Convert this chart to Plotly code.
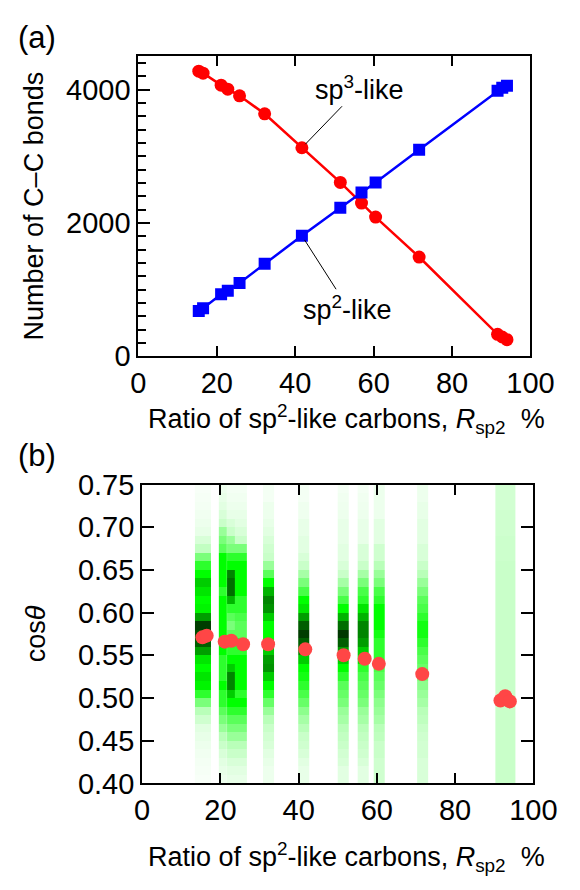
import plotly.graph_objects as go

# ---------------- data ----------------
ratio = [15.4, 16.5, 21.1, 22.8, 25.8, 32.2, 41.7, 51.5, 56.9, 60.5, 71.6, 91.6, 92.8, 94.0]
sp3_bonds = [4280, 4250, 4070, 4010, 3910, 3640, 3130, 2610, 2300, 2090, 1490, 330, 290, 250]
sp2_bonds = [680, 720, 930, 985, 1100, 1390, 1810, 2230, 2460, 2610, 3100, 3985, 4030, 4060]
cos_mean = [0.571, 0.573, 0.566, 0.567, 0.563, 0.563, 0.557, 0.550, 0.546, 0.540, 0.528, 0.497, 0.502, 0.496]

# heat-map strips: x extent of each strip and relative frequency (top bin 0.74-0.75 first)
strip_x0 = [13.5, 19.6, 21.7, 23.7, 30.9, 39.9, 50.0, 55.1, 59.2, 70.3, 90.3]
strip_x1 = [17.6, 21.7, 23.7, 26.8, 33.8, 42.8, 52.9, 57.9, 62.1, 73.2, 95.4]
cos_edges = [0.40, 0.41, 0.42, 0.43, 0.44, 0.45, 0.46, 0.47, 0.48, 0.49, 0.50, 0.51, 0.52,
             0.53, 0.54, 0.55, 0.56, 0.57, 0.58, 0.59, 0.60, 0.61, 0.62, 0.63, 0.64, 0.65,
             0.66, 0.67, 0.68, 0.69, 0.70, 0.71, 0.72, 0.73, 0.74, 0.75]
strip_1 = [0.03, 0.04, 0.05, 0.06, 0.08, 0.10, 0.15, 0.22, 0.35, 0.45, 0.50, 0.60, 0.55, 0.50, 0.52, 0.70, 0.95, 0.90,
           0.85, 0.70, 0.55, 0.50, 0.55, 0.52, 0.45, 0.35, 0.25, 0.18, 0.12, 0.10, 0.08, 0.06, 0.05, 0.04, 0.03]
strip_2 = [0.08, 0.10, 0.12, 0.15, 0.20, 0.30, 0.35, 0.40, 0.50, 0.50, 0.50, 0.50, 0.45, 0.50, 0.50, 0.50, 0.50, 0.50,
           0.50, 0.50, 0.45, 0.45, 0.45, 0.50, 0.45, 0.45, 0.40, 0.35, 0.30, 0.25, 0.20, 0.15, 0.12, 0.10, 0.08]
strip_3 = [0.05, 0.06, 0.08, 0.10, 0.15, 0.20, 0.30, 0.35, 0.45, 0.50, 0.75, 0.80, 0.80, 0.65, 0.45, 0.40, 0.35, 0.40,
           0.45, 0.45, 0.50, 0.60, 0.75, 0.75, 0.60, 0.50, 0.45, 0.40, 0.35, 0.30, 0.25, 0.20, 0.15, 0.12, 0.10]
strip_4 = [0.05, 0.06, 0.08, 0.10, 0.12, 0.15, 0.20, 0.35, 0.45, 0.50, 0.50, 0.50, 0.50, 0.45, 0.45, 0.42, 0.40, 0.40,
           0.45, 0.45, 0.50, 0.50, 0.50, 0.50, 0.45, 0.50, 0.45, 0.40, 0.35, 0.30, 0.25, 0.20, 0.15, 0.12, 0.10]
strip_5 = [0.05, 0.05, 0.08, 0.08, 0.10, 0.12, 0.15, 0.18, 0.20, 0.30, 0.40, 0.50, 0.65, 0.75, 0.72, 0.60, 0.50, 0.50,
           0.50, 0.60, 0.70, 0.72, 0.60, 0.50, 0.45, 0.38, 0.30, 0.25, 0.20, 0.17, 0.15, 0.12, 0.10, 0.08, 0.08]
strip_6 = [0.05, 0.05, 0.07, 0.07, 0.10, 0.10, 0.12, 0.12, 0.15, 0.20, 0.28, 0.35, 0.42, 0.50, 0.55, 0.70, 0.85, 0.95,
           0.85, 0.75, 0.60, 0.50, 0.48, 0.45, 0.42, 0.38, 0.32, 0.28, 0.25, 0.20, 0.18, 0.15, 0.12, 0.10, 0.10]
strip_7 = [0.05, 0.06, 0.07, 0.08, 0.10, 0.10, 0.10, 0.12, 0.12, 0.15, 0.20, 0.28, 0.35, 0.42, 0.50, 0.65, 0.80, 0.97,
           0.85, 0.70, 0.60, 0.50, 0.45, 0.40, 0.38, 0.35, 0.30, 0.28, 0.25, 0.22, 0.20, 0.17, 0.15, 0.12, 0.12]
strip_8 = [0.05, 0.06, 0.07, 0.08, 0.10, 0.10, 0.10, 0.15, 0.15, 0.20, 0.28, 0.35, 0.42, 0.45, 0.55, 0.65, 0.75, 0.75,
           0.70, 0.60, 0.55, 0.45, 0.42, 0.40, 0.38, 0.35, 0.30, 0.28, 0.25, 0.22, 0.20, 0.18, 0.15, 0.12, 0.12]
strip_9 = [0.08, 0.08, 0.08, 0.08, 0.12, 0.12, 0.12, 0.18, 0.18, 0.25, 0.30, 0.35, 0.42, 0.45, 0.50, 0.50, 0.50, 0.48,
           0.45, 0.45, 0.45, 0.42, 0.40, 0.38, 0.35, 0.32, 0.30, 0.28, 0.25, 0.23, 0.20, 0.20, 0.18, 0.18, 0.18]
strip_10 = [0.08, 0.08, 0.10, 0.10, 0.12, 0.12, 0.12, 0.15, 0.15, 0.20, 0.25, 0.30, 0.35, 0.40, 0.42, 0.45, 0.48, 0.48,
            0.45, 0.42, 0.40, 0.38, 0.35, 0.32, 0.30, 0.28, 0.25, 0.23, 0.20, 0.18, 0.17, 0.17, 0.15, 0.15, 0.15]
strip_11 = [0.17, 0.17, 0.17, 0.18, 0.18, 0.18, 0.19, 0.19, 0.19, 0.20, 0.20, 0.20, 0.20, 0.20, 0.20, 0.20, 0.20, 0.20,
            0.20, 0.20, 0.20, 0.20, 0.20, 0.20, 0.20, 0.20, 0.20, 0.20, 0.20, 0.20, 0.20, 0.20, 0.20, 0.20, 0.20]
strips = [strip_1, strip_2, strip_3, strip_4, strip_5, strip_6, strip_7, strip_8, strip_9, strip_10, strip_11]

# ---------------- styling ----------------
W, H = 580, 890
FONT = "Arial, Liberation Sans, sans-serif"
FS_TICK = 29
FS_TITLE = 27
FS_PANEL = 31
FS_NOTE = 27
greens = [[0.0, "rgb(255,255,255)"], [0.1, "rgb(232,255,232)"], [0.25, "rgb(185,255,185)"],
          [0.4, "rgb(90,255,90)"], [0.5, "rgb(0,255,0)"], [0.65, "rgb(0,180,0)"],
          [0.8, "rgb(0,110,0)"], [1.0, "rgb(0,45,0)"]]


def px(x, y):
    return x / W, 1 - y / H


fig = go.Figure()

# panel (b) heat strips
for x0, x1, vals in zip(strip_x0, strip_x1, strips):
    fig.add_trace(go.Heatmap(
        x=[x0, x1], y=cos_edges, z=[[v] for v in vals[::-1]],
        colorscale=greens, zmin=0, zmax=1, showscale=False, hoverinfo="skip",
        xaxis="x2", yaxis="y2"))

fig.add_trace(go.Scatter(
    x=ratio, y=cos_mean, mode="markers", xaxis="x2", yaxis="y2",
    marker=dict(color="#ff4646", size=14, line=dict(width=0)), showlegend=False))

# panel (a)
fig.add_trace(go.Scatter(
    x=ratio, y=sp3_bonds, mode="lines+markers", xaxis="x", yaxis="y",
    line=dict(color="#ff0000", width=2.5),
    marker=dict(symbol="circle", size=13, color="#ff0000"), showlegend=False))
fig.add_trace(go.Scatter(
    x=ratio, y=sp2_bonds, mode="lines+markers", xaxis="x", yaxis="y",
    line=dict(color="#0000ff", width=2.5),
    marker=dict(symbol="square", size=12, color="#0000ff"), showlegend=False))

common = dict(showline=True, linecolor="black", linewidth=2, ticks="inside",
              tickwidth=2, tickcolor="black", showgrid=False, zeroline=False,
              tickfont=dict(family=FONT, size=FS_TICK, color="black"))

ya0, ya1 = 1 - 353 / H, 1 - 42 / H
yb0, yb1 = 1 - 796 / H, 1 - 486 / H

fig.update_layout(
    width=W, height=H, margin=dict(l=0, r=0, t=0, b=0),
    paper_bgcolor="white", plot_bgcolor="white", showlegend=False,
    font=dict(family=FONT, size=FS_TICK, color="black"),
    xaxis=dict(domain=[138 / W, 553 / W], range=[0, 100], tickmode="linear", tick0=0, dtick=20,
               ticklen=10, anchor="y", mirror="ticks", **common),
    yaxis=dict(domain=[ya0, ya1], range=[0, 4500], tickmode="linear", tick0=0, dtick=2000,
               ticklen=12, anchor="x", mirror=True,
               minor=dict(dtick=200, ticks="inside", ticklen=8, tickwidth=2, tickcolor="black", showgrid=False),
               **common),
    yaxis3=dict(overlaying="y", side="right", anchor="x", range=[0, 4500], tickmode="linear",
                tick0=0, dtick=200, ticks="inside", ticklen=9, tickwidth=2, tickcolor="black",
                showticklabels=False, showline=False, showgrid=False, zeroline=False),
    xaxis2=dict(domain=[142 / W, 556 / W], range=[0, 100], tickmode="linear", tick0=0, dtick=20,
                ticklen=10, anchor="y2", mirror="ticks", **common),
    yaxis2=dict(domain=[yb0, yb1], range=[0.40, 0.75], tickmode="linear", tick0=0.40, dtick=0.05,
                tickformat=".2f", ticklen=12, anchor="x2", mirror="ticks", **common),
)

xtitle = "Ratio of sp<sup>2</sup>-like carbons, <i>R</i><sub>sp2</sub> &nbsp;%"
annots = [
    dict(text="(a)", pos=(31, 22), size=FS_PANEL),
    dict(text="(b)", pos=(31, 456), size=FS_PANEL),
    dict(text=xtitle, pos=(358, 418), size=FS_TITLE),
    dict(text=xtitle, pos=(358, 872), size=FS_TITLE),
    dict(text="Number of C\u2013C bonds", pos=(27, 197), angle=-90, size=FS_TITLE),
    dict(text="cos<i>\u03b8</i>", pos=(30, 641), angle=-90, size=FS_TITLE),
]
for a in annots:
    x, y = px(*a["pos"])
    fig.add_annotation(x=x, y=y, xref="paper", yref="paper", text=a["text"], showarrow=False,
                       textangle=a.get("angle", 0), xanchor="center", yanchor="middle",
                       font=dict(family=FONT, size=a["size"], color="black"))

# series labels with leader lines
fig.add_annotation(x=ratio[6], y=sp3_bonds[6], xref="x", yref="y", text="sp<sup>3</sup>-like",
                   showarrow=True, arrowhead=0, arrowwidth=1, arrowcolor="black", ax=58, ay=-60,
                   standoff=5, font=dict(family=FONT, size=FS_NOTE, color="black"))
fig.add_annotation(x=ratio[6], y=sp2_bonds[6], xref="x", yref="y", text="sp<sup>2</sup>-like",
                   showarrow=True, arrowhead=0, arrowwidth=1, arrowcolor="black", ax=46, ay=72,
                   standoff=5, font=dict(family=FONT, size=FS_NOTE, color="black"))

fig.write_html("out.html")
